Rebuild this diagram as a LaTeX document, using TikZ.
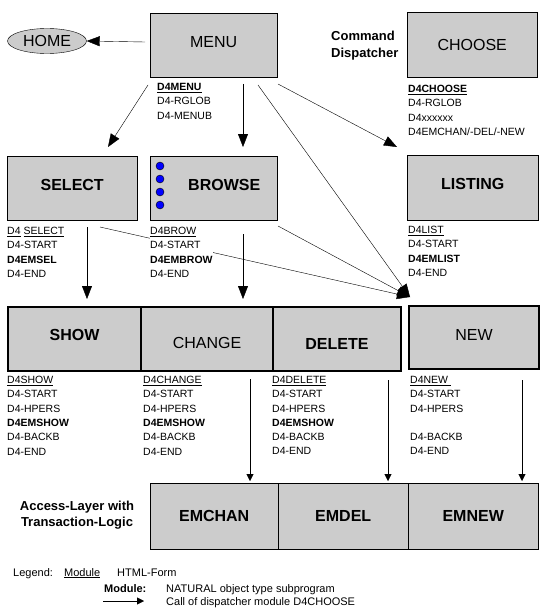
\documentclass[tikz,border=0pt]{standalone}
\usepackage{fontspec}
\setmainfont{Liberation Sans}
\usetikzlibrary{arrows.meta,shapes.geometric}
\definecolor{boxgray}{RGB}{204,204,204}
\definecolor{dotblue}{RGB}{0,0,255}

\begin{document}
\begin{tikzpicture}[x=1pt,y=-1pt,
box/.style={draw,fill=boxgray,rectangle,anchor=north west,inner sep=0pt,
    minimum width=130pt,minimum height=64pt,font=\fontsize{16}{18}\selectfont},
boldbox/.style={box,font=\bfseries\fontsize{16}{18}\selectfont},
heavy/.style={line width=2pt},
textup/.style={text depth=#1},
textdown/.style={text height=#1},
calls/.style={-{Triangle[length=13pt,width=10pt]}},
small calls/.style={-{Triangle[length=7pt,width=7pt]}},
labels/.style={anchor=north west,align=left,inner sep=0pt,fill=white,
    font=\fontsize{10.5}{14.3}\selectfont},
title/.style={inner sep=0pt,font=\bfseries\fontsize{13}{16.5}\selectfont},
legend/.style={inner sep=0pt,anchor=base west,font=\fontsize{11}{13}\selectfont}]
\useasboundingbox (0,0) rectangle (545,615);
\fill[white] (0,0) rectangle (545,615);

% top row
\node[box,minimum width=127pt,textup=6pt] (menu) at (150,13) {MENU};
\node[box,minimum height=65pt] (choose) at (407,12) {CHOOSE};
\node[draw,fill=boxgray,ellipse,minimum width=79pt,minimum height=25pt,inner sep=0pt,
    font=\fontsize{16}{18}\selectfont] (home) at (47,41) {HOME};
\node[title,anchor=north west,align=left] (dispatcher) at (331,31) {Command\\Dispatcher};

% second row
\node[boldbox,textup=6pt] (select) at (7,156) {SELECT};
\node[boldbox,minimum width=127pt,textup=6pt] (browse) at (150,156) {\hspace*{21pt}BROWSE};
\foreach \y in {166,179,192,205}
    \draw[fill=dotblue] (160,\y) circle (4pt);
\node[boldbox,minimum width=131pt,minimum height=65pt,textup=8pt] (listing) at (407,155) {LISTING};

% third row
\node[boldbox,heavy,minimum width=133pt,textup=8pt] (show) at (7,306) {SHOW};
\node[box,heavy,minimum width=132pt,textdown=19pt] (change) at (140,306) {CHANGE};
\node[boldbox,heavy,minimum width=128pt,textdown=21pt] (delete) at (272,306) {DELETE};
\node[box,heavy,minimum height=63pt,textup=6pt] (new) at (408,305) {NEW};

% access layer
\node[boldbox,minimum width=128pt,minimum height=66pt] (emchan) at (150,483) {EMCHAN};
\node[boldbox,minimum height=66pt] (emdel) at (278,483) {EMDEL};
\node[boldbox,minimum height=66pt] (emnew) at (408,483) {EMNEW};
\node[title,align=center] (access) at (77,515) {Access-Layer with\\Transaction-Logic};

% free ends of the calls
\coordinate (menuleft) at (145,42);
\coordinate (ms) at (148,85);  \coordinate (st) at (108,147);
\coordinate (mb) at (243,84);  \coordinate (bt) at (243,147);
\coordinate (mn) at (258,85);
\coordinate (ml) at (278,84);  \coordinate (lt) at (397,147);
\coordinate (sd) at (87,227);
\coordinate (bd) at (243,234);
\coordinate (sn) at (100,227);
\coordinate (bn) at (278,226);
\coordinate (hub) at (410,297);
\coordinate (cd) at (250,379);
\coordinate (dd) at (388,380);
\coordinate (nd) at (522,380);

\draw[calls] (menuleft) -- (home.east);
\draw[calls] (ms) -- (st);
\draw[calls] (mb) -- (bt);
\draw[calls] (ml) -- (lt);
\draw[calls] (mn) -- (hub);
\draw[calls] (sn) -- (hub);
\draw[calls] (bn) -- (hub);
\draw[calls,shorten >=7pt] (sd) -- (sd |- show.north);
\draw[calls,shorten >=7pt] (bd) -- (bd |- change.north);
\draw[small calls,shorten >=2pt] (cd) -- (cd |- emchan.north);
\draw[small calls,shorten >=2pt] (dd) -- (dd |- emdel.north);
\draw[small calls,shorten >=2pt] (nd) -- (nd |- emnew.north);

% module lists
\node[labels] (menumods) at (157,83) {\textbf{\underline{D4MENU}}\\D4-RGLOB\\D4-MENUB};
\node[labels] (choosemods) at (408,85) {\textbf{\underline{D4CHOOSE}}\\D4-RGLOB\\D4xxxxxx\\D4EMCHAN/-DEL/-NEW};
\node[labels] (selectmods) at (7,227) {\underline{D4} \underline{SELECT}\\D4-START\\\textbf{D4EMSEL}\\D4-END};
\node[labels] (browsemods) at (150,227) {\underline{D4BROW}\\D4-START\\\textbf{D4EMBROW}\\D4-END};
\node[labels] (listingmods) at (408,226) {\underline{D4LIST}\\D4-START\\\textbf{D4EMLIST}\\D4-END};
\node[labels] (showmods) at (7,376) {\underline{D4SHOW}\\D4-START\\D4-HPERS\\\textbf{D4EMSHOW}\\D4-BACKB\\D4-END};
\node[labels] (changemods) at (143,376) {\underline{D4CHANGE}\\D4-START\\D4-HPERS\\\textbf{D4EMSHOW}\\D4-BACKB\\D4-END};
\node[labels] (deletemods) at (272,376) {\underline{D4DELETE}\\D4-START\\D4-HPERS\\\textbf{D4EMSHOW}\\D4-BACKB\\D4-END};
\node[labels] (newmods) at (410,376) {\underline{D4NEW\ }\\D4-START\\D4-HPERS\\[14.3pt]D4-BACKB\\D4-END};

% legend
\node[legend] (legendword) at (13,576) {Legend:};
\node[legend] (modulekey) at (64,576) {\underline{Module}};
\node[legend] (formkey) at (117,576) {HTML-Form};
\node[legend,font=\bfseries\fontsize{11}{13}\selectfont] (modulename) at (104,592) {Module:};
\node[legend] (moduletext) at (166,592) {NATURAL object type subprogram};
\coordinate (keyfrom) at (103,601);
\coordinate (keyto) at (144,601);
\draw[small calls] (keyfrom) -- (keyto);
\node[legend] (calltext) at (166,605) {Call of dispatcher module D4CHOOSE};
\end{tikzpicture}
\end{document}
